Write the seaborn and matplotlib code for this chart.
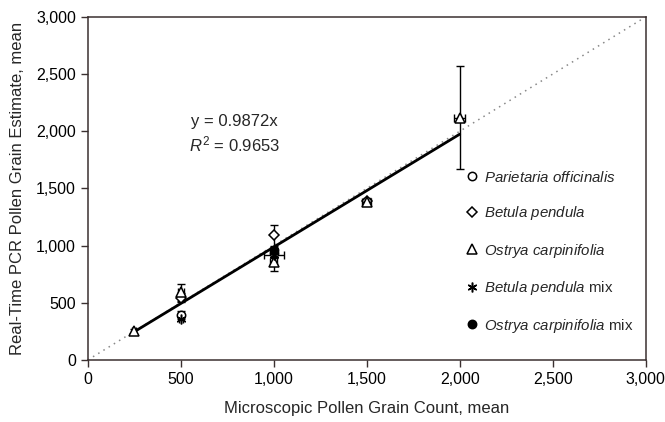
import numpy as np
import pandas as pd
import matplotlib
matplotlib.use("Agg")
import matplotlib.pyplot as plt
import seaborn as sns
from matplotlib.ticker import FuncFormatter

# values
par_x = [500, 1000]
par_y = [390, 935]
par_yerr = [35, 40]

bet_x = [500, 1000, 1500]
bet_y = [545, 1090, 1390]
bet_yerr = [40, 90, 25]

ost_x = [250, 500, 1000, 1500, 2000]
ost_y = [250, 590, 855, 1380, 2120]
ost_yerr = [20, 75, 75, 25, 450]
ost_xerr = [10, 15, 20, 25, 30]

betmix_x = [500, 1000]
betmix_y = [360, 915]
betmix_xerr = [10, 55]

ostmix_x = [1000]
ostmix_y = [960]

fit_x = [250, 2000]
slope = 0.9872
r2 = 0.9653
ident = [0, 3000]

sns.set_style("ticks")
plt.rcParams["font.family"] = ["Liberation Sans", "DejaVu Sans"]
plt.rcParams["mathtext.fontset"] = "custom"
plt.rcParams["mathtext.rm"] = "Liberation Sans"
plt.rcParams["mathtext.it"] = "Liberation Sans:italic"

fig = plt.figure(figsize=(6.65, 4.22), dpi=100)
ax = fig.add_axes([0.132, 0.147, 0.839, 0.813])

# identity line and regression line
sns.lineplot(x=ident, y=ident, ax=ax, color="#888888", linestyle=(0, (1, 3)), linewidth=1.1)
sns.lineplot(x=fit_x, y=[slope * v for v in fit_x], ax=ax, color="black", linewidth=2)

series = [
    ("$\\it{Parietaria\\ officinalis}$", par_x, par_y, par_yerr, None, "o", "white", 6),
    ("$\\it{Betula\\ pendula}$", bet_x, bet_y, bet_yerr, None, "D", "white", 5),
    ("$\\it{Ostrya\\ carpinifolia}$", ost_x, ost_y, ost_yerr, ost_xerr, "^", "white", 7),
    ("$\\it{Betula\\ pendula}$ mix", betmix_x, betmix_y, None, betmix_xerr, (6, 2, 0), "black", 7),
    ("$\\it{Ostrya\\ carpinifolia}$ mix", ostmix_x, ostmix_y, None, None, "o", "black", 6),
]

for label, xs, ys, yerr, xerr, mk, fc, ms in series:
    if yerr is not None or xerr is not None:
        ax.errorbar(xs, ys, yerr=yerr, xerr=xerr, fmt="none", ecolor="black",
                    elinewidth=1, capsize=3, capthick=1, zorder=3)
    ax.plot(xs, ys, linestyle="none", marker=mk, markersize=ms, markerfacecolor=fc,
            markeredgecolor="black", markeredgewidth=1.1, color="black",
            label=label, zorder=4)

ax.set_xlim(0, 3000)
ax.set_ylim(0, 3000)
ax.set_xticks(range(0, 3001, 500))
ax.set_yticks(range(0, 3001, 500))
fmt = FuncFormatter(lambda v, p: f"{int(v):,}")
ax.xaxis.set_major_formatter(fmt)
ax.yaxis.set_major_formatter(fmt)
ax.tick_params(labelsize=11.5, colors="#3b3030", length=5, width=1, labelcolor="black")
for s in ax.spines.values():
    s.set_visible(True)
    s.set_color("#3b3030")
    s.set_linewidth(1.1)

ax.set_xlabel("Microscopic Pollen Grain Count, mean", fontsize=12, labelpad=10)
ax.set_ylabel("Real-Time PCR Pollen Grain Estimate, mean", fontsize=12, labelpad=8)

ax.text(790, 2085, f"y = {slope}x", fontsize=12, ha="center", va="center",
        bbox=dict(facecolor="white", edgecolor="none", pad=1))
ax.text(790, 1885, f"$\\it{{R}}^2$ = {r2}", fontsize=12, ha="center", va="center",
        bbox=dict(facecolor="white", edgecolor="none", pad=1))

leg = ax.legend(loc="upper left", bbox_to_anchor=(0.668, 0.572), frameon=True,
                fontsize=10.8, labelspacing=1.3, handlelength=0.8, handletextpad=0.35,
                borderpad=0.4, borderaxespad=0, numpoints=1)
leg.get_frame().set_edgecolor("none")
leg.get_frame().set_facecolor("white")
leg.get_frame().set_alpha(1)
leg.set_zorder(2.5)

fig.savefig("out.png", dpi=100)
